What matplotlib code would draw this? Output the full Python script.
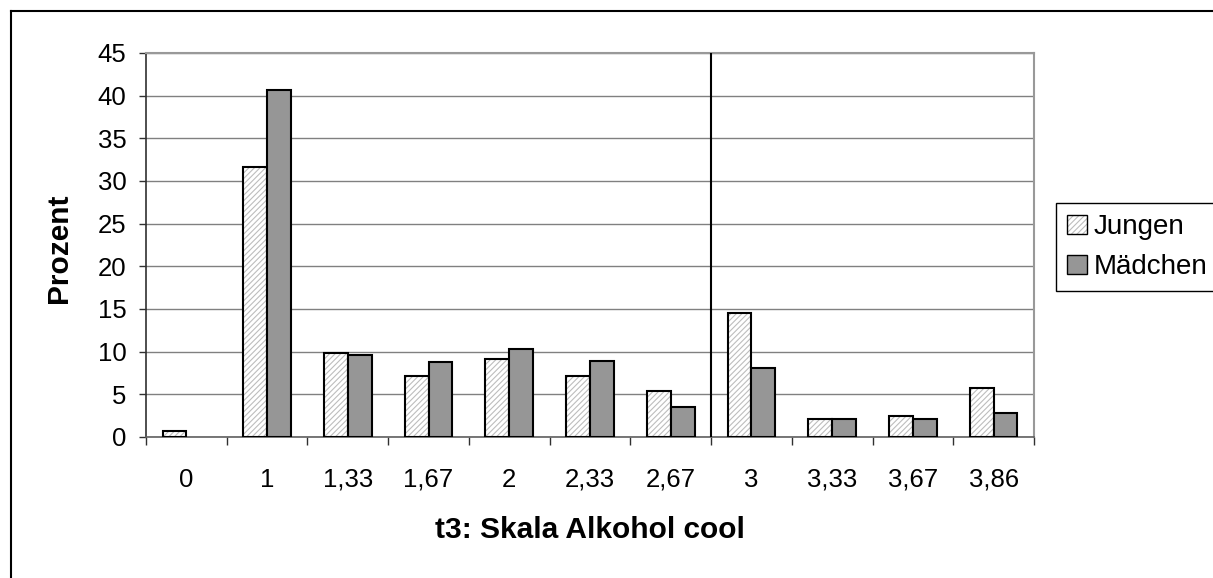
import matplotlib
matplotlib.use("Agg")
import matplotlib.pyplot as plt
from matplotlib.patches import Patch
from matplotlib.lines import Line2D
import numpy as np

plt.rcParams['font.family'] = ['Liberation Sans', 'DejaVu Sans']
plt.rcParams['hatch.linewidth'] = 0.8

categories = ["0", "1", "1,33", "1,67", "2", "2,33", "2,67", "3", "3,33", "3,67", "3,86"]
jungen = [0.7, 31.6, 9.8, 7.2, 9.1, 7.2, 5.4, 14.5, 2.1, 2.5, 5.8]
maedchen = [0.0, 40.7, 9.6, 8.8, 10.3, 8.9, 3.5, 8.1, 2.1, 2.1, 2.8]
y_ticks = [0, 5, 10, 15, 20, 25, 30, 35, 40, 45]

W, H = 1213, 578
fig = plt.figure(figsize=(W / 100, H / 100), dpi=100)
ax = fig.add_axes([146 / W, 1 - 437 / H, (1034 - 146) / W, (437 - 53) / H])

x = np.arange(len(categories))
jv = np.array(jungen, dtype=float)
mv = np.array(maedchen, dtype=float)
bw = 0.295
hatch_gray = "#bdbdbd"
mgray = "#969696"

jm = jv > 0
mm = mv > 0
# Jungen: hatched fill then black outline
ax.bar(x[jm] - bw / 2, jv[jm], bw, facecolor="white", edgecolor=hatch_gray,
       hatch="//////", linewidth=0, zorder=3)
ax.bar(x[jm] - bw / 2, jv[jm], bw, fill=False, edgecolor="black", linewidth=1.5, zorder=4)
# Mädchen
ax.bar(x[mm] + bw / 2, mv[mm], bw, facecolor=mgray, edgecolor="black", linewidth=1.5, zorder=4)

ax.set_xlim(-0.5, len(categories) - 0.5)
ax.set_ylim(0, 45)
ax.set_yticks(y_ticks)
ax.set_yticklabels([str(v) for v in y_ticks], fontsize=18.5)
ax.yaxis.grid(True, color="#808080", linewidth=1.0, zorder=0)
ax.set_axisbelow(True)

ax.set_xticks(x)
ax.set_xticklabels(categories, fontsize=18.5)
ax.set_xticks(np.arange(-0.5, len(categories)), minor=True)
ax.tick_params(axis="x", which="major", length=0, pad=22)
ax.tick_params(axis="x", which="minor", length=6, width=1, color="#303030", direction="out")
ax.tick_params(axis="y", which="major", length=5, width=1, color="#303030", direction="out", pad=9)

for s in ["top", "right"]:
    ax.spines[s].set_color("#999999")
    ax.spines[s].set_linewidth(1.5)
ax.spines["left"].set_color("#303030")
ax.spines["left"].set_linewidth(1.2)
ax.spines["bottom"].set_color("#606060")
ax.spines["bottom"].set_linewidth(1.2)

ax.axvline(6.5, color="black", linewidth=1.5, zorder=5)

fig.text(590 / W, 1 - 530 / H, "t3: Skala Alkohol cool", fontsize=21.5,
         fontweight="bold", ha="center", va="center")
fig.text(59 / W, 1 - 248 / H, "Prozent", fontsize=21.5, fontweight="bold",
         rotation=90, ha="center", va="center")

# figure frame (left and top)
fig.add_artist(Line2D([10.5 / W, 10.5 / W], [0, 1 - 10.5 / H], transform=fig.transFigure,
                      color="black", linewidth=1.5))
fig.add_artist(Line2D([10.5 / W, 1], [1 - 10.5 / H, 1 - 10.5 / H], transform=fig.transFigure,
                      color="black", linewidth=1.5))

h_j = (Patch(facecolor="white", edgecolor=hatch_gray, hatch="//////", linewidth=0),
       Patch(fill=False, edgecolor="black", linewidth=1.0))
h_m = Patch(facecolor=mgray, edgecolor="black", linewidth=1.0)
leg = fig.legend([h_j, h_m], ["Jungen", "Mädchen"], loc="upper left",
                 bbox_to_anchor=(1056 / W, 1 - 203 / H), fontsize=20,
                 frameon=True, fancybox=False, framealpha=1, edgecolor="black",
                 handlelength=0.7, handleheight=0.7, handletextpad=0.25,
                 borderpad=0.4, labelspacing=0.5, borderaxespad=0)
leg.get_frame().set_linewidth(1.0)

fig.savefig("out.png", dpi=100)
